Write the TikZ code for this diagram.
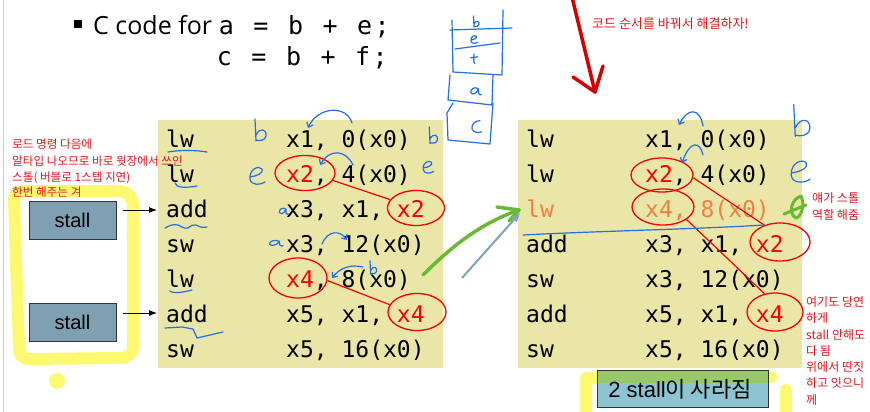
\documentclass[tikz,border=0pt]{standalone}
\usepackage{fontspec}
\setmainfont{Liberation Sans}
\newfontfamily\monofont{DejaVu Sans Mono}
\newfontfamily\cjk{Noto Sans CJK KR}
\newfontfamily\titlefont{Open Sans}
\usetikzlibrary{arrows.meta,shapes.geometric}

\definecolor{codebg}{RGB}{234,230,168}
\definecolor{hl}{RGB}{252,249,112}
\definecolor{stallc}{RGB}{127,160,178}
\definecolor{tealc}{RGB}{140,196,210}
\definecolor{greenc}{RGB}{152,200,104}
\definecolor{pen}{RGB}{35,110,230}
\definecolor{mred}{RGB}{250,0,0}
\definecolor{tred}{RGB}{230,20,30}
\definecolor{dred}{RGB}{215,0,0}
\definecolor{orng}{RGB}{240,128,64}
\definecolor{gpen}{RGB}{106,185,52}
\definecolor{garrow}{RGB}{127,163,184}

\newcommand\mch[1]{\makebox[17.3pt][c]{#1}}
\newcommand\rd[1]{\textcolor{mred}{#1}}

\tikzset{
  code/.style={anchor=base west, inner sep=0pt, font=\monofont\fontsize{23}{23}\selectfont},
  redring/.style={ellipse, draw=mred, line width=1.3pt, inner sep=0pt},
  redlink/.style={draw=mred, line width=1.2pt},
  penline/.style={draw=pen, line width=1.2pt, line cap=round, line join=round},
  penarrow/.style={penline, -{Straight Barb[length=4pt,width=7pt]}},
  hilite/.style={draw=hl, line width=12pt, line cap=round, line join=round},
  note/.style={anchor=base west, inner sep=0pt, text=tred, font=\cjk\fontsize{12}{12}\selectfont},
  stallbox/.style={draw=black!80, line width=0.9pt, fill=stallc, minimum width=87pt, minimum height=38pt, inner sep=0pt, font=\fontsize{20}{20}\selectfont},
  hb/.pic={\draw[penline] (-5,-12) -- (-4,10) (-4,4) .. controls (0,-4) and (7,-2) .. (6,5) .. controls (5,10) and (-1,10) .. (-4,9);},
  he/.pic={\draw[penline] (-7,0) .. controls (0,-1) and (7,-4) .. (5,-8) .. controls (2,-12) and (-8,-8) .. (-7,2) .. controls (-6,9) and (4,8) .. (8,5);},
  ha/.pic={\draw[penline] (5,-3) .. controls (0,-7) and (-7,-3) .. (-6,2) .. controls (-5,6) and (2,5) .. (5,-3) -- (5,3) .. controls (6,6) and (8,6) .. (9,5);},
  hc/.pic={\draw[penline] (5,-8) .. controls (-1,-8) and (-6,-3) .. (-5,2) .. controls (-4,7) and (3,8) .. (7,6);},
  hf/.pic={\draw[penline] (-6,-2) -- (7,-4) (0,-9) .. controls (-1,-3) and (-1,4) .. (1,8);},
}

\begin{document}
\begin{tikzpicture}[x=1pt,y=-1pt]
\useasboundingbox (0,0) rectangle (870,412);
\fill[white] (0,0) rectangle (870,412);
\draw[black!20, line width=1pt] (3,0) -- (3,412);

% yellow highlighter strokes
\draw[hilite] (16,262) -- (14,200) .. controls (14,193) and (18,191) .. (26,191) -- (118,191) .. controls (128,191) and (133,197) .. (133,208) -- (133,346) .. controls (133,354) and (128,358) .. (120,358) -- (30,359) .. controls (22,359) and (19,355) .. (19,348) -- (16,262);
\fill[hl] (57,381) circle (8);
\draw[hilite] (586,414) -- (586,378) -- (771,377);
\draw[hilite] (786,390) -- (786,414);

% title
\node[fill=black, minimum size=8pt, inner sep=0pt] (bul) at (78,24.5) {};
\node[anchor=base west, inner sep=0pt, font=\titlefont\fontsize{25}{25}\selectfont] (title) at (93,35) {C code for};
\node[anchor=base west, inner sep=0pt, font=\monofont\fontsize{25}{25}\selectfont] (eq1) at (217.5,35) {\mch{a}\mch{}\mch{=}\mch{}\mch{b}\mch{}\mch{+}\mch{}\mch{e}\mch{;}};
\node[anchor=base west, inner sep=0pt, font=\monofont\fontsize{25}{25}\selectfont] (eq2) at (215.5,66) {\mch{c}\mch{}\mch{=}\mch{}\mch{b}\mch{}\mch{+}\mch{}\mch{f}\mch{;}};

% code boxes
\node[fill=codebg, minimum width=285pt, minimum height=248pt, inner sep=0pt, anchor=north west] (lbox) at (158,120) {};
\node[fill=codebg, minimum width=284pt, minimum height=248pt, inner sep=0pt, anchor=north west] (rbox) at (518,120) {};

% left code
\node[code] (lo1) at (166,147) {lw};   \node[code] (la1) at (286,147) {x1, 0(x0)};
\node[code] (lo2) at (166,182) {lw};   \node[code] (la2) at (286,182) {\rd{x2}, 4(x0)};
\node[code] (lo3) at (166,217) {add};  \node[code] (la3) at (286,217) {x3, x1, \rd{x2}};
\node[code] (lo4) at (166,252) {sw};   \node[code] (la4) at (286,252) {x3, 12(x0)};
\node[code] (lo5) at (166,287) {lw};   \node[code] (la5) at (286,287) {\rd{x4}, 8(x0)};
\node[code] (lo6) at (166,322) {add};  \node[code] (la6) at (286,322) {x5, x1, \rd{x4}};
\node[code] (lo7) at (166,357) {sw};   \node[code] (la7) at (286,357) {x5, 16(x0)};

% right code
\node[code] (ro1) at (526,147) {lw};   \node[code] (ra1) at (645,147) {x1, 0(x0)};
\node[code] (ro2) at (526,182) {lw};   \node[code] (ra2) at (645,182) {\rd{x2}, 4(x0)};
\node[code, text=orng] (ro3) at (526,217) {lw}; \node[code, text=orng] (ra3) at (645,217) {x4, 8(x0)};
\node[code] (ro4) at (526,252) {add};  \node[code] (ra4) at (645,252) {x3, x1, \rd{x2}};
\node[code] (ro5) at (526,287) {sw};   \node[code] (ra5) at (645,287) {x3, 12(x0)};
\node[code] (ro6) at (526,322) {add};  \node[code] (ra6) at (645,322) {x5, x1, \rd{x4}};
\node[code] (ro7) at (526,357) {sw};   \node[code] (ra7) at (645,357) {x5, 16(x0)};

% red rings left
\node[redring, minimum width=60pt, minimum height=35pt] (lA) at (305,173) {};
\node[redring, minimum width=57pt, minimum height=35pt] (lB) at (416,208) {};
\node[redring, minimum width=58pt, minimum height=40pt] (lC) at (298,278) {};
\node[redring, minimum width=58pt, minimum height=37pt] (lD) at (417,312) {};
\draw[redlink] (lA.-15) -- (lB.162);
\draw[redlink] (lC.-5) -- (lD.165);

% red rings right
\node[redring, minimum width=62pt, minimum height=34pt] (rA) at (662,175) {};
\node[redring, minimum width=62pt, minimum height=36pt] (rB) at (663,207) {};
\node[redring, minimum width=60pt, minimum height=38pt] (rC) at (780,242) {};
\node[redring, minimum width=56pt, minimum height=38pt] (rD) at (775,312) {};
\draw[redlink] (rA.-5) -- (rC.133);
\draw[redlink] (rB.-28) -- (rD.120);

% stall boxes
\node[stallbox] (s1) at (72.5,220) {stall};
\node[stallbox] (s2) at (72.5,322.5) {stall};
\coordinate (a1s) at (123,210); \coordinate (a1e) at (157,210);
\coordinate (a2s) at (123,313); \coordinate (a2e) at (157,313);
\draw[line width=0.9pt, -{Latex[length=8pt,width=6pt]}] (a1s) -- (a1e);
\draw[line width=0.9pt, -{Latex[length=8pt,width=6pt]}] (a2s) -- (a2e);

% left red notes
\node[note, font=\cjk\fontsize{11.6}{11.6}\selectfont] (n1) at (12,148) {로드 명령 다음에};
\node[note, font=\cjk\fontsize{11.6}{11.6}\selectfont] (n2) at (12,165) {알타입 나오므로 바로 윗장에서 쓰인};
\node[note, font=\cjk\fontsize{11.6}{11.6}\selectfont] (n3) at (12,181) {스톨( 버블로 1스텝 지연)};
\node[note, font=\cjk\fontsize{11.6}{11.6}\selectfont] (n4) at (12,196) {한번 해주는 겨};

% top red note and arrow
\node[note, font=\cjk\fontsize{13}{13}\selectfont] (ntop) at (592,28.5) {코드 순서를 바꿔서 해결하자!};
\coordinate (rt1) at (572,-3); \coordinate (rt2) at (595,92);
\draw[dred, line width=3.5pt, line cap=round] (rt1) -- (rt2);
\draw[dred, line width=3.5pt, line cap=round, line join=round] (573,77) -- (rt2) -- (603,66);

% right notes
\node[note] (n5) at (812,202) {얘가 스톨};
\node[note] (n6) at (812,219) {역할 해줌};
\node[note] (n7) at (806,306) {여기도 당연};
\node[note] (n8) at (806,322) {하게};
\node[note] (n9) at (806,339) {stall 안해도};
\node[note] (n10) at (806,355) {다 됨};
\node[note] (n11) at (806,371) {위에서 딴짓};
\node[note] (n12) at (806,387) {하고 잇으니};
\node[note] (n13) at (806,404) {께};

% "2 stall" box
\node[fill=tealc, minimum width=170pt, minimum height=36pt, inner sep=0pt] (gone) at (683,389) {};
\fill[greenc] (598,371) rectangle (768,383);
\draw[black!80, line width=0.9pt] (gone.north west) rectangle (gone.south east);
\node[inner sep=0pt] (gonet) at (680,389) {\fontsize{22}{22}\selectfont 2 stall{\cjk 이 사라짐}};

% middle arrows
\coordinate (g1) at (423,275); \coordinate (g2) at (519,210);
\draw[gpen, line width=3.5pt, line cap=round] (g1) .. controls (448,250) and (478,224) .. (g2);
\draw[gpen, line width=3.5pt, line cap=round, line join=round] (497,207) -- (g2) -- (509,221);
\coordinate (b1) at (462,278); \coordinate (b2) at (520,213);
\draw[garrow, line width=2pt, -{Triangle[length=9pt,width=7pt]}] (b1) -- (b2);

% green scribble on right
\draw[gpen, line width=3pt, line cap=round, line join=round] (784,214) -- (806,205) (801,196) .. controls (791,199) and (788,214) .. (796,218) .. controls (802,216) and (805,205) .. (801,196);

% blue stack sketch
\draw[penline] (452,20) -- (453,72) -- (502,75) -- (503,10);
\draw[penline] (450,30) -- (512,28);
\draw[penline] (455,49) -- (500,43);
\draw[penline] (450,75) -- (448,100) -- (492,105) -- (493,75);
\draw[penline] (453,103) -- (447,113) -- (448,140) -- (490,144) -- (493,103);
\pic[scale=0.5] at (476,22) {hb};
\pic[scale=0.45] at (474,40) {he};
\pic[scale=0.55] at (474,59) {hf};
\pic[scale=0.7] at (475,91) {ha};
\pic[scale=0.8] at (476,127) {hc};

% blue annotations left box
\pic at (260,131) {hb};
\pic[scale=0.75] at (433,136) {hb};
\pic at (257,177) {he};
\pic[scale=0.7] at (428,168) {he};
\pic[scale=0.6] at (283,211) {ha};
\pic[xscale=0.9, yscale=0.55] at (275,243) {ha};
\pic[scale=0.6] at (373,268) {hb};
\draw[penarrow] (352,123) .. controls (347,105) and (318,106) .. (308,128);
\draw[penarrow] (353,165) .. controls (346,150) and (330,148) .. (320,165);
\draw[penarrow] (322,244) .. controls (328,230) and (340,230) .. (347,240);
\draw[penarrow] (363,267) .. controls (350,264) and (340,268) .. (332,278);
\draw[penline] (168,152) .. controls (180,150) and (195,150) .. (207,152);
\draw[penline] (175,183) .. controls (176,188) and (186,188) .. (197,186);
\draw[penline] (165,228) .. controls (170,225) and (174,224) .. (178,225) .. controls (182,227) and (185,229) .. (188,228) .. controls (191,226) and (193,224) .. (196,225) .. controls (200,227) and (203,228) .. (207,227);
\draw[penline] (170,291) .. controls (173,294) and (185,292) .. (192,290);
\draw[penline] (165,328) -- (182,327) -- (193,329) -- (197,338) -- (223,332);

% blue annotations right box
\draw[penarrow] (703,126) .. controls (700,108) and (688,107) .. (679,125);
\draw[penarrow] (703,155) .. controls (700,141) and (690,140) .. (682,163);
\pic[scale=1.45] at (801,122) {hb};
\pic[scale=1.25] at (800,173) {he};
\draw[penline] (523,235) .. controls (600,231) and (700,229) .. (764,225);
\end{tikzpicture}
\end{document}
